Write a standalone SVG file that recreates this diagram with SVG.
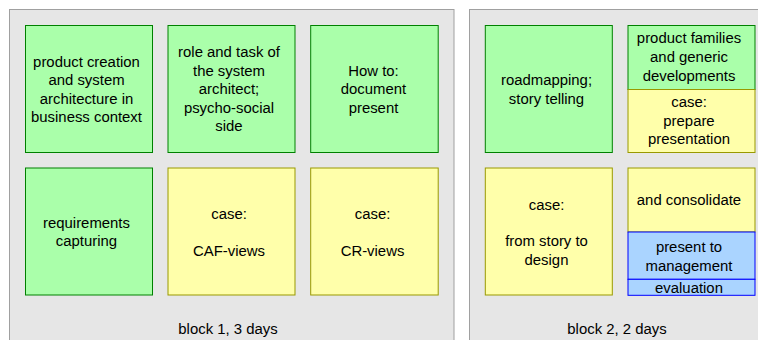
<svg xmlns="http://www.w3.org/2000/svg" width="758" height="340" viewBox="0 0 758 340">
<style>
.blk{fill:#e6e6e6;stroke:#a0a0a0;stroke-width:1}
.g{fill:#aaffaa;stroke:#008000;stroke-width:1}
.y{fill:#ffffaa;stroke:#999900;stroke-width:1}
.b{fill:#aad4ff;stroke:#0000ff;stroke-width:1}
text{font-family:"Liberation Sans",Arial,sans-serif;font-size:14.9px;fill:#000;text-anchor:middle}
</style>
<rect width="758" height="340" fill="#ffffff"/>
<g id="block1">
<rect class="blk" x="9.5" y="9.5" width="444.5" height="340"/>
<text x="228" y="333.5">block 1, 3 days</text>
</g>
<g id="block2">
<rect class="blk" x="469.5" y="9.5" width="300" height="340"/>
<text x="617" y="333.5">block 2, 2 days</text>
</g>
<g id="n1">
<rect class="g" x="25.5" y="25.5" width="127" height="127"/>
<text x="86.5" y="66.5">product creation</text>
<text x="86.5" y="85">and system</text>
<text x="86.5" y="103.5">architecture in</text>
<text x="86.5" y="122">business context</text>
</g>
<g id="n2">
<rect class="g" x="168" y="25.5" width="127" height="127"/>
<text x="229" y="57">role and task of</text>
<text x="229" y="75.5">the system</text>
<text x="229" y="94">architect;</text>
<text x="229" y="112.5">psycho-social</text>
<text x="229" y="131">side</text>
</g>
<g id="n3">
<rect class="g" x="310.7" y="25.5" width="127.5" height="127"/>
<text x="373.5" y="75.5">How to:</text>
<text x="373.5" y="94">document</text>
<text x="373.5" y="112.5">present</text>
</g>
<g id="n4">
<rect class="g" x="25.5" y="168" width="127" height="127"/>
<text x="86.5" y="227.5">requirements</text>
<text x="86.5" y="246">capturing</text>
</g>
<g id="n5">
<rect class="y" x="168" y="168" width="127" height="127"/>
<text x="229" y="218.5">case:</text>
<text x="229" y="255.5">CAF-views</text>
</g>
<g id="n6">
<rect class="y" x="310.7" y="168" width="127.5" height="127"/>
<text x="372.5" y="218.5">case:</text>
<text x="372.5" y="255.5">CR-views</text>
</g>
<g id="n7">
<rect class="g" x="485.3" y="25.5" width="127" height="127"/>
<text x="546.5" y="85">roadmapping;</text>
<text x="546.5" y="103.5">story telling</text>
</g>
<g id="n8">
<rect class="g" x="628" y="25.5" width="127" height="64"/>
<text x="689" y="43">product families</text>
<text x="689" y="62">and generic</text>
<text x="689" y="81">developments</text>
</g>
<g id="n9">
<rect class="y" x="628" y="89.5" width="127" height="63"/>
<text x="689" y="107">case:</text>
<text x="689" y="126">prepare</text>
<text x="689" y="144">presentation</text>
</g>
<g id="n10">
<rect class="y" x="485.3" y="168" width="127" height="127"/>
<text x="546.5" y="209.5">case:</text>
<text x="546.5" y="246">from story to</text>
<text x="546.5" y="264.5">design</text>
</g>
<g id="n11">
<rect class="y" x="628" y="168" width="127" height="64"/>
<text x="689" y="205">and consolidate</text>
</g>
<g id="n12">
<rect class="b" x="628" y="232" width="127" height="47.3"/>
<text x="689" y="252">present to</text>
<text x="689" y="270.5">management</text>
</g>
<g id="n13">
<rect class="b" x="628" y="279.3" width="127" height="16"/>
<text x="689" y="292.5">evaluation</text>
</g>
<g id="connectors"></g>
</svg>
